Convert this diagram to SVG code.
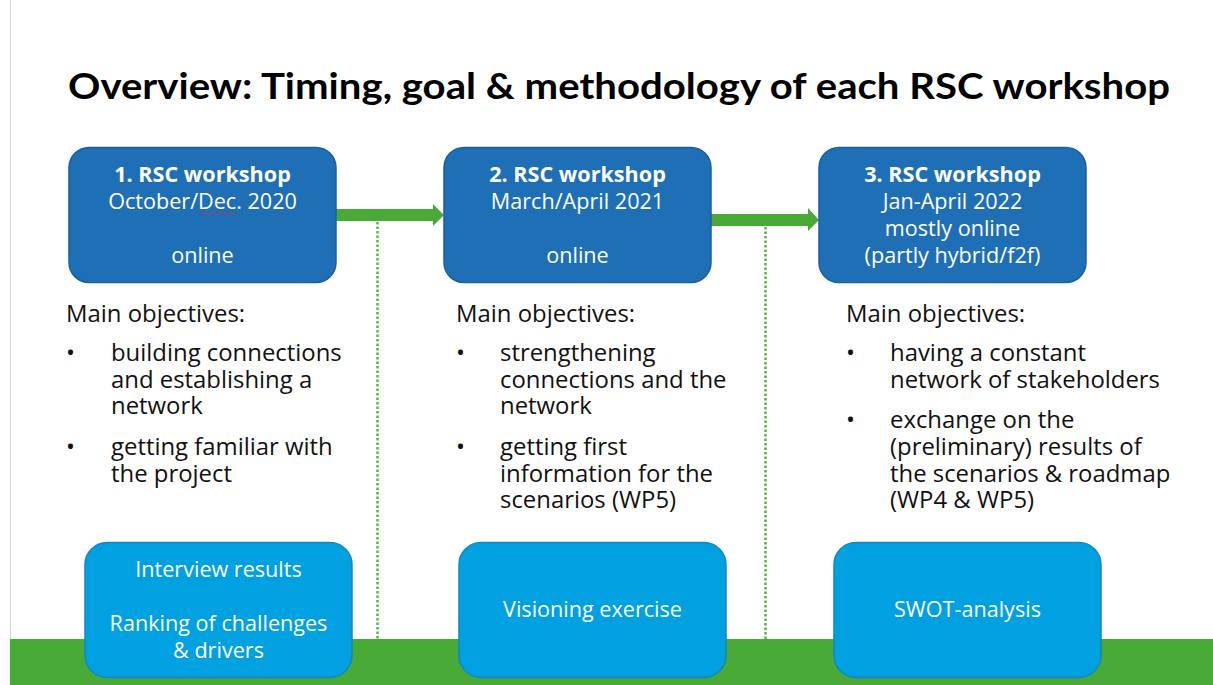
<svg xmlns="http://www.w3.org/2000/svg" width="1213" height="685" viewBox="0 0 1213 685">
  <style>
    .title { font-family: "Lato", "Liberation Sans", sans-serif; font-weight: 700; font-size: 36px; fill: #000; }
    .body { font-family: "Open Sans", "Noto Sans", "Liberation Sans", sans-serif; font-size: 23.9px; fill: #111; }
    .bt { font-family: "Open Sans", "Noto Sans", "Liberation Sans", sans-serif; font-size: 21.6px; fill: #fff; text-anchor: middle; }
    .bold { font-weight: 700; }
    .top { fill: #1F6FB7; stroke: #19609F; stroke-width: 1.5; }
    .bottom { fill: #00A0E1; stroke: #1388BF; stroke-width: 1.5; }
    .flow { fill: #4AAA38; }
    .divider { stroke: #55B83E; stroke-width: 2.5; stroke-dasharray: 2.5 2; fill: none; }
  </style>

  <!-- page background, left edge line and ground band -->
  <rect x="0" y="0" width="1213" height="685" fill="#fff"/>
  <line x1="10.5" y1="0" x2="10.5" y2="640" stroke="#D4D4D4" stroke-width="1"/>
  <rect x="10" y="639" width="1203" height="46" fill="#4AAA38"/>

  <text class="title" x="68" y="99" textLength="1102" lengthAdjust="spacingAndGlyphs">Overview: Timing, goal &amp; methodology of each RSC workshop</text>

  <!-- connectors: flow arrows and dotted dividers -->
  <g id="connectors">
    <path class="flow" d="M336 209 H433 V204 L444 215 L433 226 V221 H336 Z"/>
    <path class="flow" d="M711 214 H808 V208 L819 220 L808 231 V226 H711 Z"/>
    <line class="divider" x1="377.5" y1="222" x2="377.5" y2="639"/>
    <line class="divider" x1="765.5" y1="227" x2="765.5" y2="639"/>
  </g>

  <!-- workshop 1 -->
  <g id="workshop1">
    <rect class="top" x="69" y="147.5" width="267" height="135" rx="20"/>
    <text class="bt bold" x="202.5" y="182">1. RSC workshop</text>
    <text class="bt" x="202.5" y="209">October/Dec. 2020</text>
    <path d="M200 213.5 q1.5 -2 3 0 t3 0 t3 0 t3 0 t3 0 t3 0 t3 0 t3 0 t3 0 t3 0 t3 0 t3 0" fill="none" stroke="#E03030" stroke-width="0.8"/>
    <text class="bt" x="202.5" y="263">online</text>
  </g>

  <!-- workshop 2 -->
  <g id="workshop2">
    <rect class="top" x="444" y="147.5" width="267" height="135" rx="20"/>
    <text class="bt bold" x="577.5" y="182">2. RSC workshop</text>
    <text class="bt" x="577.5" y="209">March/April 2021</text>
    <text class="bt" x="577.5" y="263">online</text>
  </g>

  <!-- workshop 3 -->
  <g id="workshop3">
    <rect class="top" x="819" y="147.5" width="267" height="135" rx="20"/>
    <text class="bt bold" x="952.5" y="182">3. RSC workshop</text>
    <text class="bt" x="952.5" y="209">Jan-April 2022</text>
    <text class="bt" x="952.5" y="236">mostly online</text>
    <text class="bt" x="952.5" y="263">(partly hybrid/f2f)</text>
  </g>

  <!-- objectives, column 1 -->
  <g id="objectives1" class="body">
    <text x="66" y="322">Main objectives:</text>
    <text x="66" y="361">•</text>
    <text x="111" y="361">building connections</text>
    <text x="111" y="388">and establishing a</text>
    <text x="111" y="414">network</text>
    <text x="66" y="455">•</text>
    <text x="111" y="455">getting familiar with</text>
    <text x="111" y="482">the project</text>
  </g>

  <!-- objectives, column 2 -->
  <g id="objectives2" class="body">
    <text x="456" y="322">Main objectives:</text>
    <text x="456" y="361">•</text>
    <text x="500" y="361">strengthening</text>
    <text x="500" y="388">connections and the</text>
    <text x="500" y="414">network</text>
    <text x="456" y="455">•</text>
    <text x="500" y="455">getting first</text>
    <text x="500" y="482">information for the</text>
    <text x="500" y="508">scenarios (WP5)</text>
  </g>

  <!-- objectives, column 3 -->
  <g id="objectives3" class="body">
    <text x="846" y="322">Main objectives:</text>
    <text x="846" y="361">•</text>
    <text x="890" y="361">having a constant</text>
    <text x="890" y="388">network of stakeholders</text>
    <text x="846" y="428">•</text>
    <text x="890" y="428">exchange on the</text>
    <text x="890" y="455">(preliminary) results of</text>
    <text x="890" y="482">the scenarios &amp; roadmap</text>
    <text x="890" y="508">(WP4 &amp; WP5)</text>
  </g>

  <!-- methods -->
  <g id="method1">
    <rect class="bottom" x="85" y="542.5" width="267" height="135" rx="22"/>
    <text class="bt" x="218.5" y="577">Interview results</text>
    <text class="bt" x="218.5" y="631">Ranking of challenges</text>
    <text class="bt" x="218.5" y="658">&amp; drivers</text>
  </g>
  <g id="method2">
    <rect class="bottom" x="459" y="542.5" width="267" height="135" rx="22"/>
    <text class="bt" x="592.5" y="617">Visioning exercise</text>
  </g>
  <g id="method3">
    <rect class="bottom" x="834" y="542.5" width="267" height="135" rx="22"/>
    <text class="bt" x="967.5" y="617">SWOT-analysis</text>
  </g>
</svg>
